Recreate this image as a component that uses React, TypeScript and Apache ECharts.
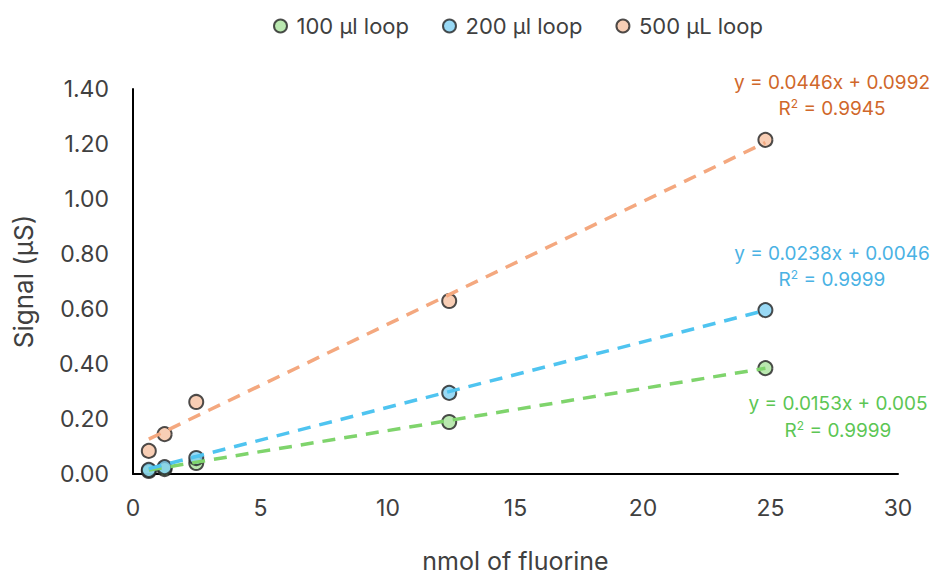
import React, { useEffect, useRef } from "react";
import * as echarts from "echarts";

const xValues = [0.62, 1.24, 2.48, 12.4, 24.8];
const loop100 = [0.011, 0.018, 0.040, 0.189, 0.385];
const loop200 = [0.015, 0.025, 0.058, 0.295, 0.596];
const loop500 = [0.084, 0.145, 0.262, 0.629, 1.215];
const seriesNames = ["100 µl loop", "200 µl loop", "500 µL loop"];
const slopes = [0.0153, 0.0238, 0.0446];
const intercepts = [0.005, 0.0046, 0.0992];
const eqTexts = ["y = 0.0153x + 0.005", "y = 0.0238x + 0.0046", "y = 0.0446x + 0.0992"];
const r2Texts = ["0.9999", "0.9999", "0.9945"];

const fillColors = ["#a9e29c", "#7fd0f2", "#f6c2a2"];
const lineColors = ["#7fd46c", "#4fc4f0", "#f4a87f"];
const eqColors = ["#5cc654", "#4ab2e4", "#d0672a"];
const FONT = "Inter, 'Noto Sans', sans-serif";

export default function App() {
  const ref = useRef<HTMLDivElement>(null);
  useEffect(() => {
    const chart = echarts.init(ref.current!, null, { renderer: "svg" });
    const groups = [loop100, loop200, loop500];
    const scatter = groups.map((ys, i) => ({
      name: seriesNames[i],
      type: "scatter",
      symbol: "circle",
      symbolSize: 14,
      z: 2,
      itemStyle: { color: fillColors[i], borderColor: "#222", borderWidth: 2 },
      data: xValues.map((x, j) => [x, ys[j]]),
    }));
    const xMin = xValues[0];
    const xMax = xValues[xValues.length - 1];
    const trends = slopes.map((m, i) => ({
      name: "trend" + i,
      type: "line",
      symbol: "none",
      z: 3,
      silent: true,
      lineStyle: { color: lineColors[i], width: 3.5, type: [13, 9] },
      data: [
        [xMin, m * xMin + intercepts[i]],
        [xMax, m * xMax + intercepts[i]],
      ],
    }));
    const eqPos = [
      [838, 403, 430],
      [832, 253, 279],
      [832, 82, 108],
    ];
    const graphics: any[] = [];
    eqPos.forEach((p, i) => {
      graphics.push({
        type: "text",
        x: p[0],
        y: p[1],
        style: {
          text: eqTexts[i],
          fill: eqColors[i],
          font: `19px ${FONT}`,
          align: "center",
          verticalAlign: "middle",
        },
      });
      graphics.push({
        type: "text",
        x: p[0],
        y: p[2],
        style: {
          text: "R{sup|2} = " + r2Texts[i],
          fill: eqColors[i],
          font: `19px ${FONT}`,
          align: "center",
          verticalAlign: "middle",
          rich: {
            sup: { fontSize: 12, verticalAlign: "top", fill: eqColors[i], fontFamily: FONT, padding: [0, 0, 9, 0] },
          },
        },
      });
    });
    chart.setOption({
      animation: false,
      textStyle: { fontFamily: FONT },
      legend: {
        data: seriesNames,
        top: 10,
        left: 268,
        icon: "circle",
        itemWidth: 22,
        itemHeight: 13,
        itemGap: 33,
        textStyle: { fontSize: 22, color: "#404040", fontFamily: FONT },
      },
      grid: { left: 133, right: 40, top: 89, bottom: 101, outerBoundsMode: "none" },
      xAxis: {
        type: "value",
        min: 0,
        max: 30,
        interval: 5,
        name: "nmol of fluorine",
        nameLocation: "middle",
        nameGap: 74,
        nameTextStyle: { fontSize: 25, lineHeight: 26, color: "#404040", fontFamily: FONT },
        axisLine: { show: true, lineStyle: { color: "#000", width: 2 } },
        axisTick: { show: false },
        splitLine: { show: false },
        axisLabel: { fontSize: 23, color: "#404040", margin: 22 },
      },
      yAxis: {
        type: "value",
        min: 0,
        max: 1.4,
        interval: 0.2,
        name: "Signal (µS)",
        nameLocation: "middle",
        nameGap: 97,
        nameTextStyle: { fontSize: 26, color: "#404040", fontFamily: FONT },
        axisLine: { show: true, lineStyle: { color: "#000", width: 2 } },
        axisTick: { show: false },
        splitLine: { show: false },
        axisLabel: {
          fontSize: 23,
          color: "#404040",
          margin: 24,
          formatter: (v: number) => v.toFixed(2),
        },
      },
      graphic: graphics,
      series: [...scatter, ...trends],
    });
    return () => chart.dispose();
  }, []);
  return <div ref={ref} style={{ width: 938, height: 575, position: "absolute", left: 0, top: 0 }} />;
}
